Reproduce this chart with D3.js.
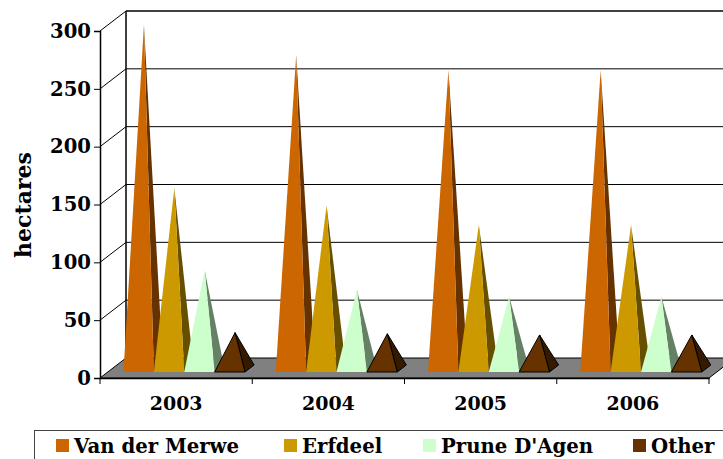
<!DOCTYPE html>
<html><head><meta charset="utf-8">
<script src="https://cdn.jsdelivr.net/npm/d3@7"></script>
<style>html,body{margin:0;padding:0;background:#fff;overflow:hidden}svg{display:block}
text{font-family:"DejaVu Serif",serif;font-weight:bold;fill:#000}</style></head><body>
<svg id="c" width="723" height="459"></svg>
<script>
const categories = ["2003","2004","2005","2006"];
const seriesNames = ["Van der Merwe","Erfdeel","Prune D'Agen","Other"];
const vanDerMerwe = [297,271,258,258];
const erfdeel = [156,141,124,124];
const pruneDAgen = [85,68,62,62];
const other = [31,30,29,29];
const yTicks = [0,50,100,150,200,250,300];
const frontColors = ["#CC6600","#CC9900","#CCFFCC","#663300"];
const sideColors = ["#663300","#665000","#668066","#331A00"];
const allValues = [vanDerMerwe,erfdeel,pruneDAgen,other];

const svg = d3.select("#c");
const W=723;
const y = d3.scaleLinear().domain([0,300]).range([378,31]);
const x = d3.scaleBand().domain(categories).range([100,709]);
const inner = d3.scaleBand().domain(seriesNames).range([23.5,145]);
const dx=26, dy=-20; // chart depth
const line=(a,b,c,d,col="#000",w=1)=>svg.append("line").attr("x1",a).attr("y1",b).attr("x2",c).attr("y2",d).attr("stroke",col).attr("stroke-width",w);

// walls + gridlines
yTicks.slice(1).forEach(t=>{
  line(100,y(t),100+dx,y(t)+dy);
  line(100+dx,y(t)+dy,W,y(t)+dy,"#000",t===300?1.5:1);
});
line(100+dx,y(300)+dy,100+dx,y(0)+dy,"#000",1.5);
// floor
const right=x.range()[1];
svg.append("polygon").attr("points",[[100,y(0)],[100+dx,y(0)+dy],[right+dx,y(0)+dy],[right,y(0)]].join(" "))
  .attr("fill","#808080").attr("stroke","#000").attr("stroke-width",1);

// axes
const yAxis=d3.axisLeft(y).tickValues(yTicks).tickSize(6).tickPadding(3);
const gy=svg.append("g").attr("transform","translate(100,0)").call(yAxis);
gy.selectAll("text").style("font-size","19.6px");
gy.select(".domain").attr("stroke-width",1.5);
const gx=svg.append("g").attr("transform","translate(0,378)").call(
  d3.axisBottom(x).tickSize(0).tickPadding(19));
gx.selectAll("text").style("font-size","19px").attr("dy","0.71em");
gx.select(".domain").attr("stroke-width",1.5);
categories.concat([null]).forEach((c,i)=>{
  const px = c===null ? right : x(c);
  line(px,378,px,384);
});

// pyramids
const fz=0.3, bz=0.65, mz=(fz+bz)/2;
categories.forEach((c,ci)=>{
  seriesNames.forEach((s,si)=>{
    const v=allValues[si][ci];
    const x0=x(c)+inner(s), x1=x0+inner.bandwidth();
    const zeroY=y(0);
    const fy=zeroY+fz*dy;
    const backOffX=(bz-fz)*dx, backOffY=(bz-fz)*dy;
    const apex=[(x0+x1)/2+backOffX/2+0.7, y(v)+mz*dy];
    const a=[x0,fy], b=[x1,fy], d=[x1+backOffX,fy+backOffY];
    const stroke = si===3 ? "#000" : "none";
    svg.append("polygon").attr("points",[b,d,apex].join(" ")).attr("fill",sideColors[si]).attr("stroke",stroke);
    svg.append("polygon").attr("points",[a,b,apex].join(" ")).attr("fill",frontColors[si]).attr("stroke",stroke);
  });
});

// y title
svg.append("text").attr("transform","translate(31,205) rotate(-90)").attr("text-anchor","middle")
  .style("font-size","22px").text("hectares");

// legend
const legendX=[56,284,423,633];
svg.append("rect").attr("x",34.5).attr("y",430.5).attr("width",760).attr("height",60).attr("fill","#fff").attr("stroke","#444");
seriesNames.forEach((s,i)=>{
  svg.append("rect").attr("x",legendX[i]).attr("y",439).attr("width",13).attr("height",13).attr("fill",frontColors[i]);
  svg.append("text").attr("x",legendX[i]+18).attr("y",453).style("font-size","19.7px").text(s);
});
</script></body></html>
